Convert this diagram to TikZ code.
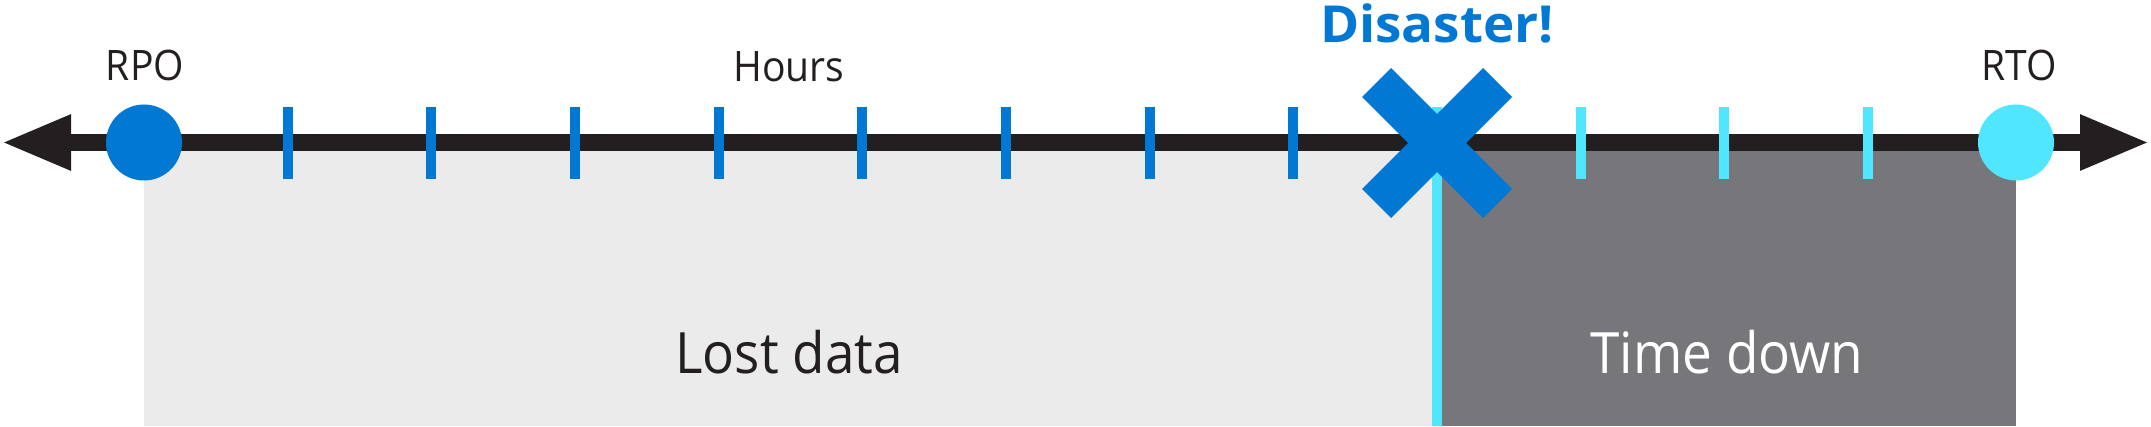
\documentclass[tikz,border=0pt]{standalone}
\usepackage{fontspec}
\setmainfont{Open Sans}
\newfontfamily\narrowos[FakeStretch=0.93]{Open Sans}
\newfontfamily\boldos[FakeStretch=1.04]{Open Sans Bold}
\usetikzlibrary{arrows.meta}
\definecolor{dblue}{HTML}{0078D4}
\definecolor{cyanc}{HTML}{50E6FF}
\definecolor{axisc}{HTML}{231F20}
\definecolor{lgray}{HTML}{EBEBEB}
\definecolor{dgray}{HTML}{77767B}
\tikzset{
  tickb/.style={rectangle, fill=dblue, minimum width=10pt, minimum height=72pt, inner sep=0pt, draw=none},
  tickc/.style={tickb, fill=cyanc},
  dot/.style={circle, minimum size=76pt, inner sep=0pt, draw=none},
  lbl/.style={anchor=base, text=axisc, inner sep=0pt, font=\narrowos\fontsize{42}{50}\selectfont},
  biglbl/.style={anchor=base, inner sep=0pt, font=\narrowos\fontsize{57}{68}\selectfont},
  xarm/.style={line width=41pt, dblue, line cap=butt},
}
\begin{document}
\begin{tikzpicture}[x=1pt,y=-1pt]
\useasboundingbox (0,0) rectangle (2151,427);
% regions
\fill[lgray] (144,142) rectangle (1432,426);
\fill[dgray] (1442,142) rectangle (2016,426);
\node[rectangle, fill=cyanc, minimum width=10pt, minimum height=319pt, inner sep=0pt] (dline) at (1437,266.5) {};
% axis
\coordinate (left) at (1,142.5);
\coordinate (right) at (2150,142.5);
\draw[axisc, line width=17pt, {Triangle[length=70pt,width=51pt]}-{Triangle[length=70pt,width=51pt]}] (left) -- (right);
% ticks
\foreach \i in {1,...,8} \node[tickb] (t\i) at ({144+143.67*\i},143) {};
\foreach \i in {10,11,12} \node[tickc] (t\i) at ({144+143.67*\i},143) {};
% circles
\node[dot, fill=dblue] (rpo) at (144,142.5) {};
\node[dot, fill=cyanc] (rto) at (2016,142.5) {};
% cross
\coordinate (xc) at (1437,143);
\draw[xarm] (1376.5,82.5) -- (xc) -- (1497.5,203.5);
\draw[xarm] (1497.5,82.5) -- (xc) -- (1376.5,203.5);
% labels
\node[lbl] (rpol) at (145,81) {RPO};
\node[lbl] (rtol) at (2019,81) {RTO};
\node[lbl] (hours) at (789,82) {Hours};
\node[anchor=base, inner sep=0pt, text=dblue, font=\boldos\fontsize{51}{60}\selectfont] (dis) at (1437,43) {Disaster!};
\node[biglbl, text=axisc] (lost) at (789,373) {Lost data};
\node[biglbl, text=white] (down) at (1727,373) {Time down};
\end{tikzpicture}
\end{document}
